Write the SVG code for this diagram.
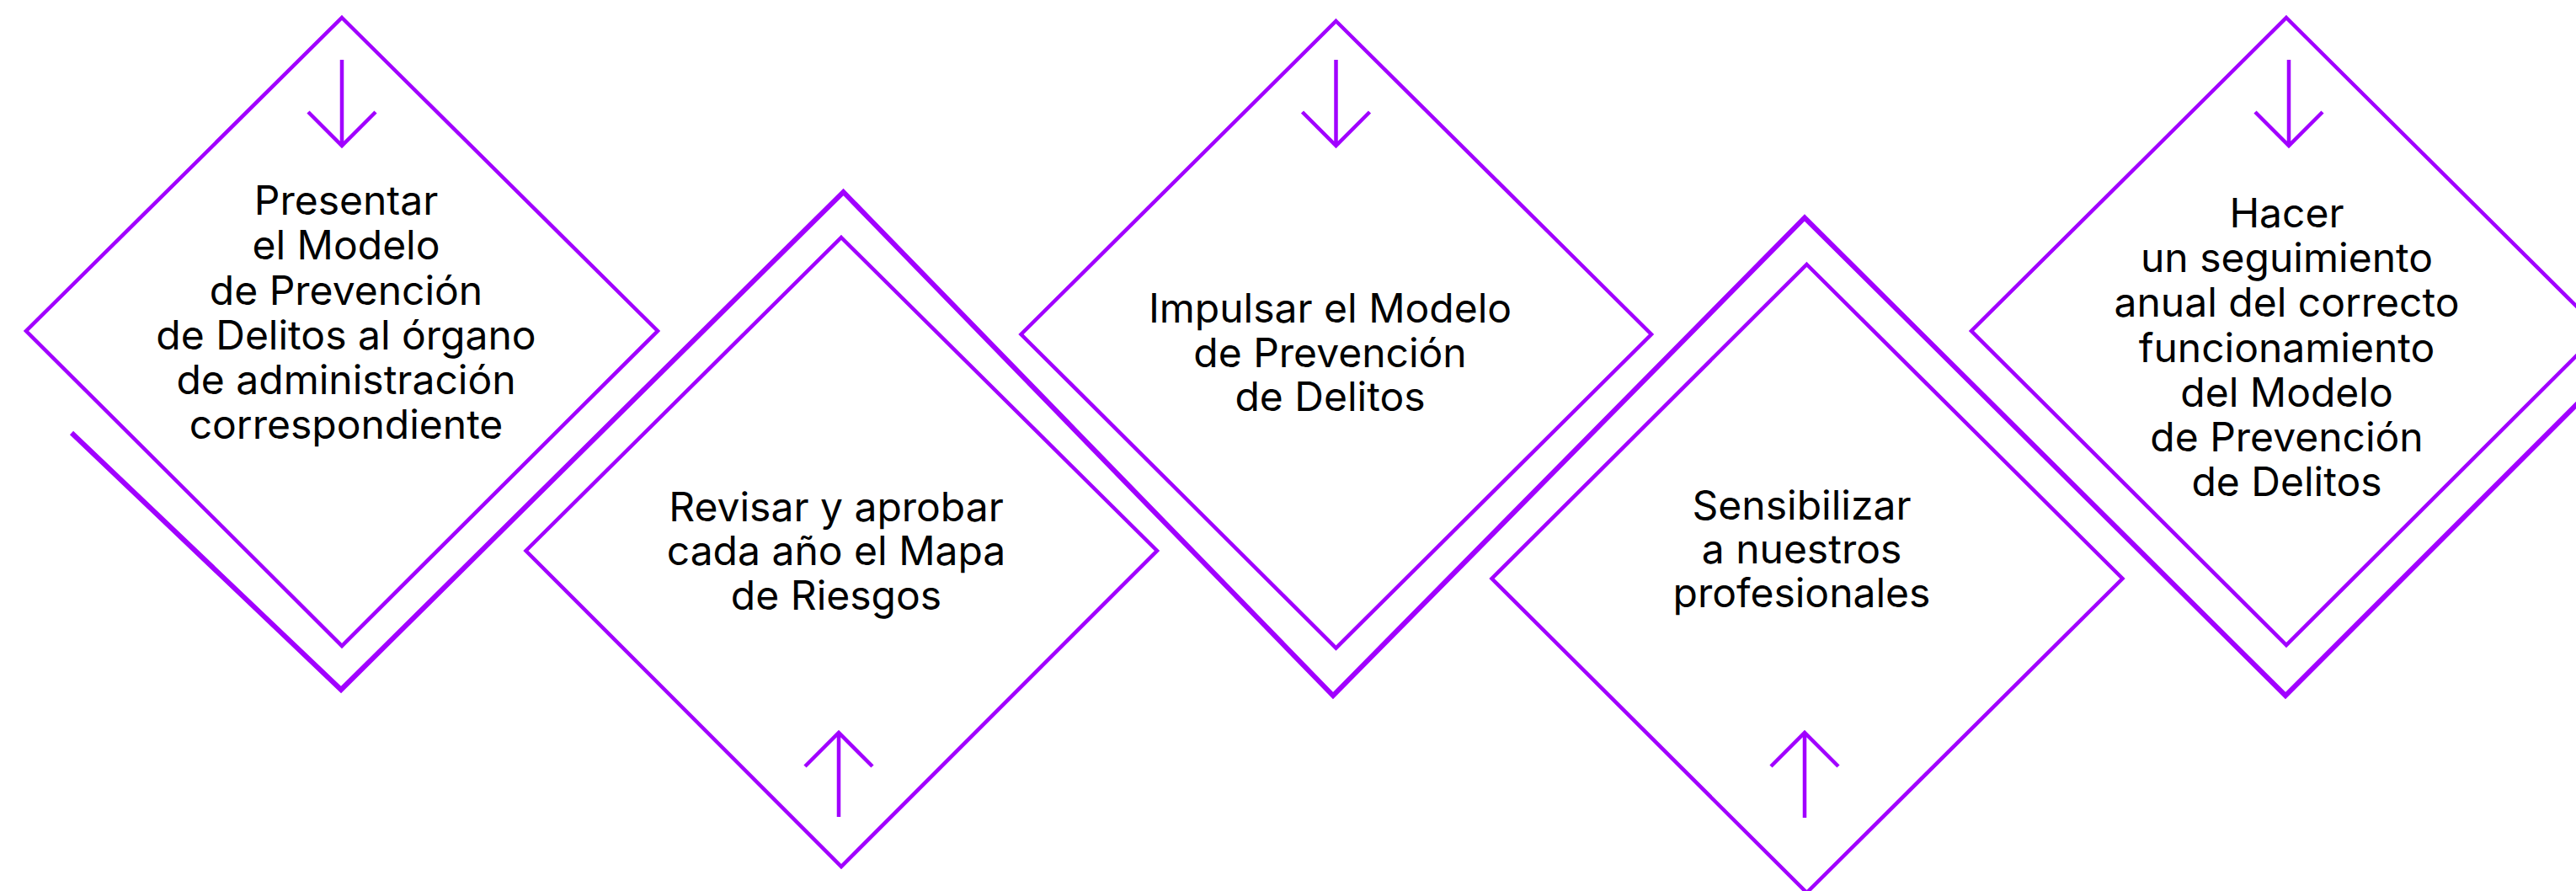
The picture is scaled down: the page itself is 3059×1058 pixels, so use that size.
<svg xmlns="http://www.w3.org/2000/svg" width="3059" height="1058" viewBox="0 0 3059 1058">
<style>
.d{fill:none;stroke:#A100FF;stroke-width:4.5;stroke-miterlimit:10}
.z{fill:none;stroke:#A100FF;stroke-width:6;stroke-miterlimit:10}
.a{fill:none;stroke:#A100FF;stroke-width:4.5;stroke-linecap:butt}
.t{font-family:Inter,"Liberation Sans",sans-serif;font-size:48px;fill:#000;text-anchor:middle}
</style>
<rect width="3059" height="1058" fill="#fff"/>
<g id="connectors">
<polyline class="z" points="85,514 405,819 1001.5,228 1583,826 2143,258.5 2714,826 3100,440"/>
</g>
<g id="node1">
<polygon class="d" points="406,21 781,393 406,767 31,393"/>
<path class="a" d="M406,71V172M366,133L406,173L446,133"/>
<text class="t"><tspan x="411" y="255">Presentar</tspan><tspan x="411" y="308">el Modelo</tspan><tspan x="411" y="361.5">de Prevención</tspan><tspan x="411" y="414.5">de Delitos al órgano</tspan><tspan x="411" y="468">de administración</tspan><tspan x="411" y="521">correspondiente</tspan></text>
</g>
<g id="node2">
<polygon class="d" points="999,282 1374,654 999,1029 624.5,654"/>
<path class="a" d="M996,970V870M956,910L996,870L1036,910"/>
<text class="t"><tspan x="993" y="618.5">Revisar y aprobar</tspan><tspan x="993" y="671">cada año el Mapa</tspan><tspan x="993" y="724">de Riesgos</tspan></text>
</g>
<g id="node3">
<polygon class="d" points="1586.5,25 1961,397 1586.5,769.5 1212.5,397"/>
<path class="a" d="M1586.5,71V172M1546.5,133L1586.5,173L1626.5,133"/>
<text class="t"><tspan x="1579.5" y="383">Impulsar el Modelo</tspan><tspan x="1579.5" y="435.5">de Prevención</tspan><tspan x="1579.5" y="488">de Delitos</tspan></text>
</g>
<g id="node4">
<polygon class="d" points="2145.5,314 2520.5,687 2145.5,1060 1771.5,687"/>
<path class="a" d="M2143,971V870M2103,910L2143,870L2183,910"/>
<text class="t"><tspan x="2139.5" y="617">Sensibilizar</tspan><tspan x="2139.5" y="669">a nuestros</tspan><tspan x="2139.5" y="721">profesionales</tspan></text>
</g>
<g id="node5">
<polygon class="d" points="2715,21 3089,393 2715,766 2341,393"/>
<path class="a" d="M2718,71V172M2678,133L2718,173L2758,133"/>
<text class="t"><tspan x="2715.5" y="270">Hacer</tspan><tspan x="2715.5" y="323.2">un seguimiento</tspan><tspan x="2715.5" y="376.4">anual del correcto</tspan><tspan x="2715.5" y="429.6">funcionamiento</tspan><tspan x="2715.5" y="482.8">del Modelo</tspan><tspan x="2715.5" y="536">de Prevención</tspan><tspan x="2715.5" y="589.2">de Delitos</tspan></text>
</g>
</svg>
